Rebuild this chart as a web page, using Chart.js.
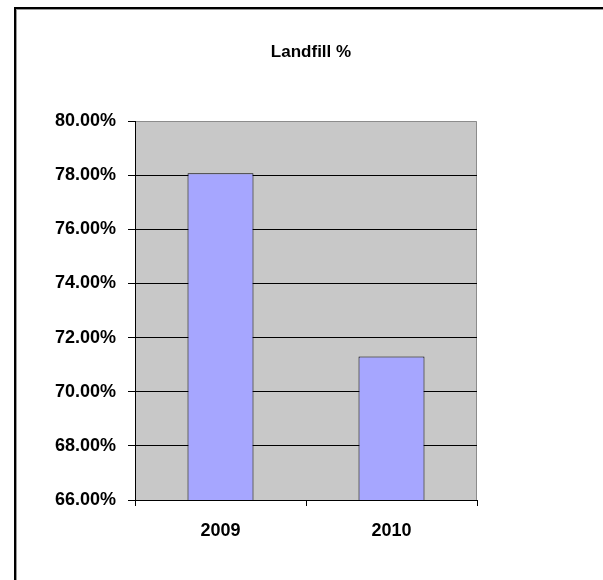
<!DOCTYPE html>
<html>
<head>
<meta charset="utf-8">
<script src="https://cdn.jsdelivr.net/npm/chart.js@4/dist/chart.umd.min.js"></script>
<style>
  html, body { margin: 0; padding: 0; background: #fff; }
  #wrap { position: relative; width: 603px; height: 580px; overflow: hidden; }
  #frame { position: absolute; left: 14px; top: 7px; width: 700px; height: 700px;
           border-left: 2px solid #000; border-top: 2px solid #000;
           box-shadow: inset 1px 1px 0 #999; }
  canvas { position: absolute; left: 0; top: 0; }
</style>
</head>
<body>
<div id="wrap">
  <div id="frame"></div>
  <canvas id="chart" width="603" height="580"></canvas>
</div>
<script>
// data
const chartTitle = 'Landfill %';
const years = ['2009', '2010'];
const landfillPct = [78.07, 71.3];
const yMin = 66;
const yMax = 80;
const yStep = 2;

const FONT = 'Liberation Sans, Arial, sans-serif';

// plot area background, gray top/right edge, and the title
const plotArea = {
  id: 'plotArea',
  beforeDraw(chart) {
    const { ctx, chartArea: a } = chart;
    ctx.save();
    ctx.fillStyle = '#c8c8c8';
    ctx.fillRect(a.left, a.top, a.right - a.left, a.bottom - a.top);
    ctx.strokeStyle = '#8c8c8c';
    ctx.lineWidth = 1;
    ctx.beginPath();
    ctx.moveTo(a.left, a.top + 0.5);
    ctx.lineTo(a.right - 0.5, a.top + 0.5);
    ctx.lineTo(a.right - 0.5, a.bottom);
    ctx.stroke();
    ctx.restore();
  },
  afterDraw(chart) {
    const { ctx, chartArea: a } = chart;
    ctx.save();
    ctx.fillStyle = '#000';
    ctx.font = 'bold 17px ' + FONT;
    ctx.textAlign = 'center';
    ctx.textBaseline = 'middle';
    ctx.fillText(chartTitle, (a.left + a.right) / 2 + 5, 52);
    ctx.restore();
  }
};

const tickFont = { family: FONT, size: 18, weight: 'bold' };

new Chart(document.getElementById('chart'), {
  type: 'bar',
  data: {
    labels: years,
    datasets: [{
      data: landfillPct,
      backgroundColor: '#a6a6ff',
      borderColor: '#000',
      borderWidth: 1,
      borderSkipped: false,
      categoryPercentage: 1,
      barPercentage: 0.386
    }]
  },
  options: {
    responsive: false,
    animation: false,
    layout: { padding: { top: 121, right: 126, bottom: 0, left: 0 } },
    plugins: {
      legend: { display: false },
      tooltip: { enabled: false },
      title: { display: false }
    },
    scales: {
      x: {
        grid: { offset: true, drawOnChartArea: false, color: '#000', tickLength: 6 },
        border: { color: '#000', width: 1 },
        ticks: { color: '#000', font: tickFont, padding: 14 },
        afterFit(s) { s.height = 80; }
      },
      y: {
        min: yMin,
        max: yMax,
        grid: {
          color: c => (c.tick && c.tick.value === yMax ? 'rgba(0,0,0,0)' : '#000'),
          tickColor: '#000',
          tickLength: 7
        },
        border: { color: '#000', width: 1 },
        ticks: {
          stepSize: yStep,
          color: '#000',
          font: tickFont,
          padding: 12,
          callback: v => v.toFixed(2) + '%'
        },
        afterFit(s) { s.width = 135; }
      }
    }
  },
  plugins: [plotArea]
});
</script>
</body>
</html>
